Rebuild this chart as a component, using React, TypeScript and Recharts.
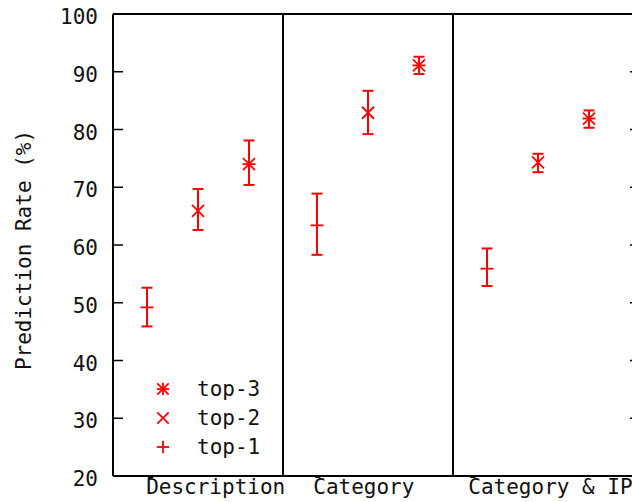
import React from 'react';
import { ScatterChart, Scatter, ErrorBar, XAxis, YAxis, ReferenceLine, Legend } from 'recharts';

// Groups along the x axis and the three ranking series
const groups = ['Description', 'Category', 'Category & IP'];
const seriesNames = ['top-1', 'top-2', 'top-3'];
// Position of each series inside its group (fraction of the group width)
const slotOffsets = [0.2, 0.5, 0.8];

// Prediction rate (%) per group: mean, lower and upper bound
const top1Mean = [49.2, 63.4, 55.9];
const top1Low = [45.9, 58.3, 52.9];
const top1High = [52.6, 68.9, 59.4];

const top2Mean = [65.9, 82.9, 74.3];
const top2Low = [62.6, 79.2, 72.6];
const top2High = [69.7, 86.7, 75.8];

const top3Mean = [74.0, 91.1, 81.9];
const top3Low = [70.4, 89.6, 80.3];
const top3High = [78.1, 92.6, 83.3];

const yTicks = [20, 30, 40, 50, 60, 70, 80, 90, 100];
// x positions where the group names start
const groupLabelPos = [0.195, 1.178, 2.09];
const groupDividers = [1, 2];

const X_MAX = 3.1;
const RED = '#ff0000';
const FONT = '"DejaVu Sans Mono", "Liberation Mono", monospace';

const PLOT_LEFT = 113;
const PLOT_RIGHT = 640;

type Pt = { x: number; y: number; err: [number, number] };

function buildSeries(mean: number[], low: number[], high: number[], slot: number): Pt[] {
  return mean.map((m, g) => ({
    x: g + slotOffsets[slot],
    y: m,
    err: [+(m - low[g]).toFixed(2), +(high[g] - m).toFixed(2)],
  }));
}

const series = [
  buildSeries(top1Mean, top1Low, top1High, 0),
  buildSeries(top2Mean, top2Low, top2High, 1),
  buildSeries(top3Mean, top3Low, top3High, 2),
];

function Marker({ kind, cx, cy, size = 1 }: { kind: number; cx: number; cy: number; size?: number }) {
  const h = 6.5 * size;
  const d = 6 * size;
  const plus = (
    <g>
      <line x1={cx - h} y1={cy} x2={cx + h} y2={cy} />
      <line x1={cx} y1={cy - h} x2={cx} y2={cy + h} />
    </g>
  );
  const cross = (
    <g>
      <line x1={cx - d} y1={cy - d} x2={cx + d} y2={cy + d} />
      <line x1={cx - d} y1={cy + d} x2={cx + d} y2={cy - d} />
    </g>
  );
  return (
    <g stroke={RED} strokeWidth={1.8} fill="none">
      {kind === 0 && plus}
      {kind === 1 && cross}
      {kind === 2 && (
        <g>
          {plus}
          {cross}
        </g>
      )}
    </g>
  );
}

function YTick(props: any) {
  const { y, payload } = props;
  return (
    <g>
      <text x={98} y={y + 10} textAnchor="end" fontFamily={FONT} fontSize={21} fill="#111">
        {payload.value}
      </text>
      <line x1={PLOT_LEFT} y1={y} x2={PLOT_LEFT + 10} y2={y} stroke="#000" strokeWidth={1.5} />
      <line x1={PLOT_RIGHT - 10} y1={y} x2={PLOT_RIGHT} y2={y} stroke="#000" strokeWidth={1.5} />
    </g>
  );
}

function XTick(props: any) {
  const { x, payload } = props;
  const idx = groupLabelPos.indexOf(payload.value);
  return (
    <g>
      <rect x={x + 2} y={475} width={5} height={3} fill="#000" />
      <text x={x} y={494} textAnchor="start" fontFamily={FONT} fontSize={21} fill="#111">
        {groups[idx]}
      </text>
    </g>
  );
}

function LegendBox() {
  const rows = [...seriesNames].reverse();
  return (
    <svg width={140} height={90} style={{ display: 'block' }}>
      {rows.map((name, i) => {
        const cy = 15 + i * 29;
        return (
          <g key={name}>
            <Marker kind={seriesNames.indexOf(name)} cx={13} cy={cy} size={0.95} />
            <text x={47} y={cy + 7} fontFamily={FONT} fontSize={21} fill="#111">
              {name}
            </text>
          </g>
        );
      })}
    </svg>
  );
}

function YLabel() {
  return (
    <text
      x={31}
      y={250}
      transform="rotate(-90, 31, 250)"
      textAnchor="middle"
      fontFamily={FONT}
      fontSize={21}
      fill="#111"
    >
      Prediction Rate (%)
    </text>
  );
}

export default function App() {
  return (
    <div
      style={{
        position: 'absolute',
        left: 0,
        top: 0,
        width: 632,
        height: 502,
        overflow: 'hidden',
        background: '#fff',
      }}
    >
      <ScatterChart width={700} height={502} margin={{ top: 14, right: 60, bottom: 0, left: 0 }}>
        <XAxis
          type="number"
          dataKey="x"
          domain={[0, X_MAX]}
          ticks={groupLabelPos}
          tick={<XTick />}
          tickLine={false}
          axisLine={{ stroke: '#000', strokeWidth: 2 }}
          height={26}
          allowDataOverflow
          interval={0}
        />
        <YAxis
          type="number"
          dataKey="y"
          domain={[20, 100]}
          ticks={yTicks}
          tick={<YTick />}
          tickLine={false}
          axisLine={{ stroke: '#000', strokeWidth: 2 }}
          width={113}
          allowDataOverflow
          interval={0}
          label={<YLabel />}
        />
        <ReferenceLine y={100} stroke="#000" strokeWidth={2} />
        <ReferenceLine x={X_MAX} stroke="#000" strokeWidth={2} />
        {groupDividers.map((d) => (
          <ReferenceLine key={d} x={d} stroke="#000" strokeWidth={2} />
        ))}
        {series.map((data, s) => (
          <Scatter
            key={seriesNames[s]}
            name={seriesNames[s]}
            data={data}
            fill={RED}
            isAnimationActive={false}
            shape={(p: any) => <Marker kind={s} cx={p.cx} cy={p.cy} />}
          >
            <ErrorBar dataKey="err" direction="y" width={5.5} stroke={RED} strokeWidth={2} />
          </Scatter>
        ))}
        <Legend
          layout="vertical"
          align="center"
          verticalAlign="middle"
          content={<LegendBox />}
          wrapperStyle={{ position: 'absolute', left: 150, top: 374, width: 140, height: 90 }}
        />
      </ScatterChart>
    </div>
  );
}
